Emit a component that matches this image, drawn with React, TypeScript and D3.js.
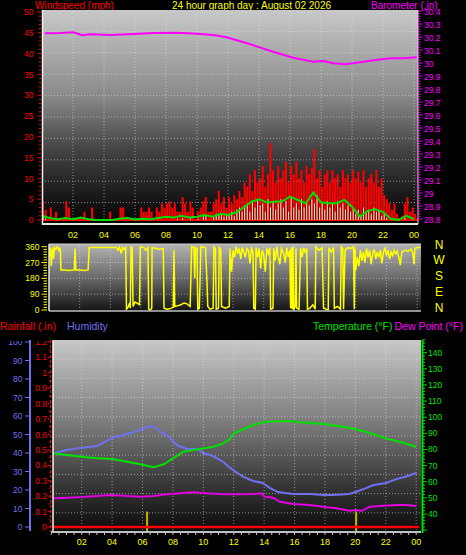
import React from 'react';
import * as d3 from 'd3';

// ---------- DATA ----------
const hourTicks = [2, 4, 6, 8, 10, 12, 14, 16, 18, 20, 22, 24];
const hourLabels = ['02', '04', '06', '08', '10', '12', '14', '16', '18', '20', '22', '00'];

// wind gust (mph), 10-minute steps from 00:00
const windGust = [
  4.5, 2.4, 0, 3, 0, 2, 0, 0, 0, 4.5, 3, 0, 0, 0, 0, 0, 2, 0, 0, 3, 0, 0, 0, 0,
  0, 0, 2, 0, 0, 0, 3, 3, 0, 0, 0, 0, 0, 0, 3, 2, 2, 3, 2, 0, 3, 2, 4, 3,
  4, 4.5, 3, 4, 2, 2, 5.5, 4, 2, 4.5, 3, 0, 2, 3, 4.5, 5.5, 2, 2, 4, 5, 7, 4, 5.5, 3,
  5.5, 4, 6, 5, 7, 5.5, 9, 8, 11, 7, 12, 9, 10, 13, 8, 11, 18.5, 12, 9, 13, 10, 12, 14, 9,
  13, 11, 14, 10, 12, 9, 13, 11, 12.5, 17, 10, 12, 8, 11, 12, 9, 12, 10, 11, 8, 12, 10, 11, 9,
  12, 10, 11.5, 9, 12, 8, 10, 11, 9, 12, 8, 10, 6, 5, 4, 2.5, 4, 1.5, 0.5, 1, 4, 5.5, 2, 3,
  1.5, 0.5,
];

// wind speed (mph), 10-minute steps from 00:00
const windSpeed = [
  0.8, 0.4, 0, 0, 0, 0, 0, 0, 0, 0, 0, 0, 0, 0, 0, 0, 0, 0, 0, 0, 0, 0, 0, 0,
  0, 0, 0, 0, 0, 0, 0, 0, 0, 0, 0, 0, 0, 0, 0, 0, 0, 0, 0, 0, 0, 0, 0, 0,
  0, 0, 0, 0, 0.3, 0, 0.5, 0, 0, 0.4, 0, 0, 0.3, 0, 1.2, 1, 0, 0, 0.8, 1.5, 1.2, 1.5, 0.8, 1.5,
  1.5, 2, 1, 2.5, 3, 2, 3.5, 4, 2, 4.5, 3, 5, 3.5, 4, 2, 5, 3, 4.5, 2.5, 4, 5, 3, 4.5, 2,
  5.5, 3, 4, 2.5, 5, 3, 4.5, 3.5, 5, 4, 6, 3, 4, 2.5, 4.5, 3, 4, 2, 4.5, 3, 4, 2.5, 3.5, 2,
  3, 1.5, 2.5, 1, 3, 2, 2.5, 1.5, 3, 2, 2.5, 1, 1.5, 0.5, 0, 0, 0, 0, 0, 0, 0.5, 0, 0, 0,
  0, 0,
];

// average wind speed (mph), 30-minute steps from 00:00
const windAvg = [
  1.0, 0.5, 0.2, 0.5, 0.2, 0.6, 0.2, 0, 0, 0, 0.3, 0.5, 0.1, 0.3, 0.2, 0.5, 0.8, 0.6, 1.0, 0.6,
  0.8, 1.2, 0.8, 1.5, 1.2, 1.8, 3.0, 4.4, 5.0, 4.2, 4.4, 4.5, 5.6, 4.8, 4.0, 6.6, 4.2, 4.0, 4.0, 4.8,
  3.2, 0.8, 2.2, 2.6, 1.9, 0.3, 0, 1.0, 0.2,
];

// barometer (inHg): [hour, value]
const barometer: [number, number][] = [
  [0.17, 30.228], [1.18, 30.231], [2.04, 30.236], [2.58, 30.213], [3.1, 30.221], [4.4, 30.215],
  [5.9, 30.223], [7.2, 30.231], [8.7, 30.233], [10.0, 30.225], [11.05, 30.215], [11.9, 30.198],
  [12.34, 30.183], [13.6, 30.138], [14.9, 30.087], [16.2, 30.041], [17.5, 30.01], [18.15, 30.015],
  [18.8, 29.998], [19.55, 29.99], [20.3, 30.002], [21.16, 30.018], [22.45, 30.036], [23.3, 30.036],
  [24.17, 30.044],
];

// wind direction (degrees): [hour, value]
const windDir: [number, number][] = [
  [0.0, 330], [0.05, 300], [0.1, 355], [0.15, 250], [0.2, 320], [0.25, 350], [0.3, 290], [0.35, 355],
  [0.45, 345], [0.55, 360], [0.65, 340], [0.7, 355], [0.75, 330], [0.78, 228], [1.0, 228], [1.3, 225],
  [1.65, 228], [1.7, 350], [1.75, 228], [2.0, 228], [2.3, 225], [2.55, 228], [2.62, 355], [3.0, 355],
  [3.5, 355], [4.0, 356], [4.4, 355], [4.5, 340], [4.6, 358], [4.7, 322], [4.8, 355], [4.9, 345],
  [5.0, 355], [5.05, 5], [5.15, 15], [5.25, 40], [5.3, 10], [5.35, 360], [5.42, 355], [5.48, 20],
  [5.6, 45], [5.7, 40], [5.9, 30], [5.95, 360], [6.2, 355], [6.3, 340], [6.45, 355], [6.5, 5],
  [6.6, 0], [6.7, 10], [6.72, 355], [7.0, 350], [7.2, 345], [7.45, 350], [7.5, 10], [7.7, 5],
  [7.9, 8], [8.1, 15], [8.15, 340], [8.2, 20], [8.4, 25], [8.6, 30], [8.8, 40], [9.0, 35],
  [9.2, 20], [9.3, 360], [9.45, 355], [9.5, 180], [9.55, 355], [9.65, 350], [9.7, 5], [9.8, 10],
  [9.9, 360], [10.2, 355], [10.3, 160], [10.35, 20], [10.5, 5], [10.7, 10], [10.75, 360], [10.85, 350],
  [10.9, 5], [11.05, 10], [11.1, 360], [11.2, 340], [11.25, 20], [11.5, 10], [11.75, 20], [11.8, 350],
  [11.9, 218], [12.0, 340], [12.1, 300], [12.2, 360], [12.3, 320], [12.4, 350], [12.5, 290], [12.6, 355],
  [12.7, 330], [12.8, 300], [12.9, 350], [13.0, 340], [13.1, 265], [13.2, 350], [13.3, 330], [13.35, 10],
  [13.45, 5], [13.5, 355], [13.6, 300], [13.7, 350], [13.8, 237], [13.9, 340], [14.0, 310], [14.1, 218],
  [14.2, 350], [14.3, 320], [14.4, 355], [14.45, 5], [14.6, 10], [14.65, 350], [14.75, 280], [14.85, 360],
  [14.95, 300], [15.05, 260], [15.15, 350], [15.3, 320], [15.4, 270], [15.5, 355], [15.6, 300], [15.7, 340],
  [15.75, 10], [15.8, 355], [15.85, 5], [15.9, 360], [15.95, 0], [16.05, 20], [16.1, 350], [16.15, 10],
  [16.3, 5], [16.4, 350], [16.5, 300], [16.6, 355], [16.7, 330], [16.8, 350], [16.85, 5], [17.0, 10],
  [17.2, 30], [17.35, 5], [17.4, 360], [17.6, 340], [17.8, 355], [17.9, 10], [18.05, 5], [18.2, 0],
  [18.25, 355], [18.4, 330], [18.55, 355], [18.6, 10], [18.8, 20], [19.0, 5], [19.05, 360], [19.15, 350],
  [19.2, 5], [19.3, 340], [19.5, 355], [19.7, 350], [19.85, 360], [19.9, 5], [19.95, 350], [20.0, 227],
  [20.1, 300], [20.2, 250], [20.3, 340], [20.4, 280], [20.5, 330], [20.6, 270], [20.7, 350], [20.8, 300],
  [20.9, 340], [21.0, 260], [21.1, 320], [21.2, 345], [21.3, 290], [21.4, 330], [21.5, 300], [21.6, 340],
  [21.7, 265], [21.8, 330], [21.9, 350], [22.0, 310], [22.1, 340], [22.2, 290], [22.3, 330], [22.4, 310],
  [22.5, 340], [22.6, 320], [22.7, 335], [22.8, 300], [22.9, 255], [23.0, 330], [23.2, 340], [23.4, 335],
  [23.6, 345], [23.7, 330], [23.8, 260], [23.85, 350], [24.0, 355], [24.2, 355],
];

// humidity (%): [hour, value]
const humidity: [number, number][] = [
  [0.13, 39.8], [1.0, 41.6], [2.0, 42.9], [3.0, 43.8], [3.64, 46.5], [4.2, 48.8], [4.5, 49.2],
  [5.5, 51.4], [6.16, 53.5], [6.5, 54.6], [6.82, 54.0], [7.15, 51.4], [7.6, 49.7], [8.25, 44.3],
  [8.9, 42.2], [9.57, 42.2], [10.0, 40.0], [10.6, 38.5], [11.3, 35.3], [11.76, 31.9], [11.95, 30.8],
  [12.6, 27.2], [13.27, 24.9], [13.9, 23.8], [14.37, 21.2], [14.9, 18.9], [15.9, 17.8], [17.0, 17.8],
  [17.9, 17.3], [18.5, 17.3], [19.6, 17.8], [20.0, 18.9], [20.7, 21.0], [21.2, 22.7], [22.0, 23.8],
  [22.7, 25.9], [23.3, 27.2], [24.0, 29.2],
];

// temperature (°F): [hour, value]
const temperature: [number, number][] = [
  [0.13, 77.6], [1.0, 76.6], [2.0, 75.5], [3.0, 74.5], [4.0, 74.1], [5.0, 72.4], [5.84, 70.8],
  [6.73, 69.0], [7.4, 70.8], [8.0, 74.5], [8.68, 78.6], [9.78, 80.3], [10.66, 81.7], [11.3, 83.8],
  [11.76, 86.5], [12.0, 90.0], [13.27, 95.2], [14.1, 97.2], [15.7, 97.7], [16.4, 96.9], [18.1, 95.6],
  [19.6, 93.5], [20.7, 91.0], [21.2, 89.4], [22.0, 86.9], [22.9, 84.8], [23.6, 82.8], [24.0, 81.7],
];

// dew point (°F): [hour, value]
const dewPoint: [number, number][] = [
  [0.13, 49.7], [1.0, 50.1], [2.0, 50.5], [3.0, 51.2], [3.88, 51.8], [4.74, 51.3], [5.84, 50.7],
  [6.71, 51.2], [7.59, 52.2], [8.47, 52.8], [9.34, 53.5], [10.22, 52.8], [11.1, 52.4], [11.95, 52.2],
  [13.27, 52.4], [13.8, 52.8], [14.04, 50.7], [14.59, 50.1], [15.03, 47.6], [15.9, 46.2], [17.0, 45.6],
  [17.87, 44.5], [18.75, 43.5], [19.63, 42.0], [20.07, 42.5], [20.4, 41.9], [20.95, 44.5], [21.82, 45.1],
  [22.7, 45.6], [23.36, 45.6], [24.0, 45.0],
];

// rainfall (in): accumulated line and rain rate markers
const rainTotal: [number, number][] = [[0, 0], [24.2, 0]];
const rainMarks: [number, number][] = [[6.3, 0.1], [20.05, 0.1]];

const windTickLabels = [0, 5, 10, 15, 20, 25, 30, 35, 40, 45, 50];
const baroTickLabels = [28.8, 28.9, 29.0, 29.1, 29.2, 29.3, 29.4, 29.5, 29.6, 29.7, 29.8, 29.9, 30.0, 30.1, 30.2, 30.3, 30.4];
const dirTickLabels = [0, 90, 180, 270, 360];
const compass = ['N', 'W', 'S', 'E', 'N'];
const humTickLabels = [0, 10, 20, 30, 40, 50, 60, 70, 80, 90, 100];
const rainTickLabels = [0, 0.1, 0.2, 0.3, 0.4, 0.5, 0.6, 0.7, 0.8, 0.9, 1, 1.1, 1.2];
const tempTickLabels = [40, 50, 60, 70, 80, 90, 100, 110, 120, 130, 140];

// ---------- CHART ----------
const FONT = 'Liberation Sans, Arial, sans-serif';
const RED = '#ff0000';
const MAG = '#ff00ff';
const YEL = '#ffff00';
const GRN = '#00e000';
const BLU = '#7070f0';
const GRID = 'rgba(225,225,225,0.55)';

function fmtNum(v: number) {
  const s = v.toFixed(1);
  return s.endsWith('.0') ? s.slice(0, -2) : s;
}

export default function App() {
  // top chart
  const tL = 42, tR = 418, tT = 10, tB = 224;
  const topX = d3.scaleLinear().domain([0, 24.25]).range([tL, tR]);
  const windY = d3.scaleLinear().domain([0, 50]).range([220, 12]);
  const baroY = d3.scaleLinear().domain([28.8, 30.4]).range([219, 11]);
  const step10 = 1 / 6;
  const barW = topX(step10) - topX(0);

  const avgLine = d3.line<number>().x((_, i) => topX(i * 0.5)).y((d) => windY(d));
  const baroLine = d3.line<[number, number]>().x((d) => topX(d[0])).y((d) => baroY(d[1]));

  // middle chart
  const mL = 49, mR = 421, mT = 244, mB = 311;
  const dirX = d3.scaleLinear().domain([0, 24.25]).range([mL, mR]);
  const dirY = d3.scaleLinear().domain([0, 360]).range([310, 246.7]);
  const dirLine = d3.line<[number, number]>().x((d) => dirX(d[0])).y((d) => dirY(d[1]));

  // bottom chart
  const bL = 53, bR = 421, bT = 340, bB = 532;
  const lowX = d3.scaleLinear().domain([0, 24.25]).range([51.3, 420]);
  const humY = d3.scaleLinear().domain([0, 100]).range([527, 342]);
  const rainY = d3.scaleLinear().domain([0, 1.2]).range([527, 342]);
  const tempY = d3.scaleLinear().domain([40, 140]).range([514, 352.7]);
  const humLine = d3.line<[number, number]>().x((d) => lowX(d[0])).y((d) => humY(d[1]));
  const tempLine = d3.line<[number, number]>().x((d) => lowX(d[0])).y((d) => tempY(d[1]));
  const dewLine = d3.line<[number, number]>().x((d) => lowX(d[0])).y((d) => tempY(d[1]));
  const rainLine = d3.line<[number, number]>().x((d) => lowX(d[0])).y((d) => rainY(d[1]));

  const topHGrid = d3.range(1, 10).map((k) => tB - ((tB - tT) * k) / 10);
  const botHGrid = d3.range(1, 10).map((k) => bB - ((bB - bT) * k) / 10);

  return (
    <svg
      width={466}
      height={555}
      style={{ position: 'absolute', left: 0, top: 0, background: '#000', fontFamily: FONT }}
    >
      <defs>
        <linearGradient id="gTop" x1="0" y1="0" x2="0" y2="1">
          <stop offset="0" stopColor="#c8c8c8" />
          <stop offset="0.4" stopColor="#8a8a8a" />
          <stop offset="0.65" stopColor="#444" />
          <stop offset="0.85" stopColor="#1c1c1c" />
          <stop offset="1" stopColor="#050505" />
        </linearGradient>
        <linearGradient id="gMid" x1="0" y1="0" x2="0" y2="1">
          <stop offset="0" stopColor="#b4b4b4" />
          <stop offset="0.5" stopColor="#6a6a6a" />
          <stop offset="1" stopColor="#141414" />
        </linearGradient>
        <linearGradient id="gBot" x1="0" y1="0" x2="0" y2="1">
          <stop offset="0" stopColor="#c8c8c8" />
          <stop offset="0.45" stopColor="#787878" />
          <stop offset="0.75" stopColor="#383838" />
          <stop offset="1" stopColor="#0a0a0a" />
        </linearGradient>
        <clipPath id="cTop"><rect x={tL} y={tT} width={tR - tL} height={tB - tT} /></clipPath>
        <clipPath id="cMid"><rect x={mL} y={mT} width={mR - mL} height={mB - mT} /></clipPath>
        <clipPath id="cBot"><rect x={bL} y={bT} width={bR - bL} height={bB - bT} /></clipPath>
        <clipPath id="cBotLab"><rect x={0} y={bT + 1} width={466} height={200} /></clipPath>
      </defs>
      <rect x={0} y={0} width={466} height={555} fill="#000" />

      {/* ===== TOP CHART ===== */}
      <text x={35} y={9.3} fontSize={10} fill={RED}>Windspeed (mph)</text>
      <text x={172} y={9.3} fontSize={10} fill={YEL}>24 hour graph day : August 02 2026</text>
      <text x={371} y={9.3} fontSize={10} fill={MAG}>Barometer (.in)</text>

      <rect x={tL} y={tT} width={tR - tL} height={tB - tT} fill="url(#gTop)" />
      <g stroke={GRID} strokeWidth={1} strokeDasharray="1,2">
        {topHGrid.map((y, i) => <line key={'th' + i} x1={tL} x2={tR} y1={y} y2={y} />)}
        {hourTicks.map((h) => <line key={'tv' + h} x1={topX(h)} x2={topX(h)} y1={tT} y2={tB} />)}
      </g>
      <g clipPath="url(#cTop)">
        {windGust.map((v, i) =>
          v > 0 ? (
            <rect key={'g' + i} x={topX(i * step10)} y={windY(v)} width={barW - 0.5} height={windY(0) - windY(v)} fill={RED} />
          ) : null
        )}
        <line x1={tL} x2={tR} y1={windY(0)} y2={windY(0)} stroke={RED} strokeWidth={2} />
        {windSpeed.map((v, i) =>
          v > 0 ? (
            <rect key={'s' + i} x={topX(i * step10) + 0.6} y={windY(v)} width={barW - 1.6} height={windY(0) - windY(v)} fill="#d4f4d4" />
          ) : null
        )}
        <path d={avgLine(windAvg) || ''} fill="none" stroke={GRN} strokeWidth={2} />
        <path d={baroLine(barometer) || ''} fill="none" stroke={MAG} strokeWidth={2} />
      </g>
      {/* borders */}
      <line x1={tL + 0.5} x2={tL + 0.5} y1={tT} y2={tB + 1} stroke="#f0f0f0" strokeWidth={1.5} />
      <line x1={tL} x2={tR} y1={tB} y2={tB} stroke="#d8ecd8" strokeWidth={2} />
      <line x1={tR} x2={tR} y1={tT} y2={tB} stroke="#f0c0f0" strokeWidth={1} />
      {/* left wind axis */}
      <g stroke={RED} strokeWidth={1}>
        {d3.range(0, 51).map((v) => (
          <line key={'wt' + v} x1={v % 5 === 0 ? 37.5 : 39} x2={41} y1={windY(v)} y2={windY(v)} />
        ))}
      </g>
      {windTickLabels.map((v) => (
        <text key={'wl' + v} x={33.5} y={windY(v) + 3.2} fontSize={8.5} fill={RED} textAnchor="end">{v}</text>
      ))}
      {/* right baro axis */}
      <g stroke={MAG} strokeWidth={1}>
        {d3.range(0, 81).map((k) => {
          const v = 28.8 + k * 0.02;
          return <line key={'bt' + k} x1={418.5} x2={k % 5 === 0 ? 422.5 : 420.5} y1={baroY(v)} y2={baroY(v)} />;
        })}
      </g>
      {baroTickLabels.map((v) => (
        <text key={'bl' + v} x={424} y={baroY(v) + 3.5} fontSize={8.5} fill={MAG}>{fmtNum(v)}</text>
      ))}
      {hourTicks.map((h, i) => (
        <text key={'tx' + h} x={topX(h)} y={238} fontSize={9} fill={YEL} textAnchor="middle">{hourLabels[i]}</text>
      ))}

      {/* ===== MIDDLE CHART ===== */}
      <rect x={mL} y={mT} width={mR - mL} height={mB - mT} fill="url(#gMid)" />
      <g stroke={GRID} strokeWidth={1} strokeDasharray="1,2">
        {[90, 180, 270].map((v) => <line key={'mh' + v} x1={mL} x2={mR} y1={dirY(v)} y2={dirY(v)} />)}
        {hourTicks.map((h) => <line key={'mv' + h} x1={dirX(h)} x2={dirX(h)} y1={mT} y2={mB} />)}
      </g>
      <g clipPath="url(#cMid)">
        <path d={dirLine(windDir) || ''} fill="none" stroke={YEL} strokeWidth={1.5} />
      </g>
      <line x1={mL} x2={mL} y1={mT} y2={mB} stroke="#e8e8e8" strokeWidth={1.5} />
      <line x1={mL} x2={mR} y1={mB} y2={mB} stroke="#bdbdbd" strokeWidth={1.5} />
      <line x1={mL} x2={mR} y1={mT} y2={mT} stroke="#d0d0d0" strokeWidth={1} />
      <g stroke={YEL} strokeWidth={1}>
        {d3.range(0, 361, 15).map((v) => (
          <line key={'dt' + v} x1={v % 90 === 0 ? 41.5 : 43.5} x2={47} y1={dirY(v)} y2={dirY(v)} />
        ))}
      </g>
      {dirTickLabels.map((v) => (
        <text key={'dl' + v} x={39.5} y={dirY(v) + 3} fontSize={8.5} fill={YEL} textAnchor="end">{v}</text>
      ))}
      {compass.map((c, i) => (
        <text key={'cp' + i} x={439} y={dirY(360 - i * 90) + 1.8} fontSize={12} fill={YEL} textAnchor="middle">{c}</text>
      ))}

      {/* ===== BOTTOM CHART ===== */}
      <text x={0} y={329.5} fontSize={10.5} fill={RED}>Rainfall (.in)</text>
      <text x={67} y={329.5} fontSize={10.5} fill={BLU}>Humidity</text>
      <text x={313} y={329.5} fontSize={10.5} fill={GRN}>Temperature (°F)</text>
      <text x={394.5} y={329.5} fontSize={10.5} fill={MAG}>Dew Point (°F)</text>

      <rect x={bL} y={bT} width={bR - bL} height={bB - bT} fill="url(#gBot)" />
      <g stroke={GRID} strokeWidth={1} strokeDasharray="1,2">
        {botHGrid.map((y, i) => <line key={'bh' + i} x1={bL} x2={bR} y1={y} y2={y} />)}
        {hourTicks.map((h) => <line key={'bv' + h} x1={lowX(h)} x2={lowX(h)} y1={bT} y2={bB} />)}
      </g>
      <g clipPath="url(#cBot)">
        {rainMarks.map(([h, v]) => (
          <rect key={'rm' + h} x={lowX(h) - 1} y={rainY(v)} width={2} height={bB - rainY(v)} fill="#c8b400" />
        ))}
        <path d={rainLine(rainTotal) || ''} fill="none" stroke={RED} strokeWidth={2.5} />
        <path d={dewLine(dewPoint) || ''} fill="none" stroke="#e000e0" strokeWidth={2} />
        <path d={humLine(humidity) || ''} fill="none" stroke={BLU} strokeWidth={2} />
        <path d={tempLine(temperature) || ''} fill="none" stroke={GRN} strokeWidth={2} />
      </g>
      <line x1={bL} x2={bL} y1={bT} y2={bB} stroke="#f4f4f4" strokeWidth={1.5} />
      <line x1={bL - 2} x2={bR} y1={bB} y2={bB} stroke="#c0c0c0" strokeWidth={2} />
      <g stroke="#c0c0c0" strokeWidth={1}>
        {d3.range(0, 49).map((k) => (
          <line key={'bx' + k} x1={lowX(k / 2)} x2={lowX(k / 2)} y1={bB + 1} y2={bB + 3} />
        ))}
      </g>
      {/* humidity axis */}
      <line x1={30} x2={30} y1={bT} y2={bB - 1} stroke={BLU} strokeWidth={2} />
      <g stroke={BLU} strokeWidth={1}>
        {humTickLabels.map((v) => <line key={'ht' + v} x1={25} x2={30} y1={humY(v)} y2={humY(v)} />)}
      </g>
      <g clipPath="url(#cBotLab)">
        {humTickLabels.map((v) => (
          <text key={'hl' + v} x={22.5} y={humY(v) + 3} fontSize={8.5} fill={BLU} textAnchor="end">{v}</text>
        ))}
        {rainTickLabels.map((v) => (
          <text key={'rl' + v} x={47} y={rainY(v) + 3} fontSize={8.5} fill={RED} textAnchor="end">{fmtNum(v)}</text>
        ))}
      </g>
      {/* rain axis */}
      <line x1={50.5} x2={50.5} y1={bT} y2={bB} stroke={RED} strokeWidth={1} strokeDasharray="3,2" />
      <g stroke={RED} strokeWidth={1}>
        {d3.range(0, 25).map((k) => (
          <line key={'rt' + k} x1={k % 2 === 0 ? 47.5 : 49} x2={50.5} y1={rainY(k * 0.05)} y2={rainY(k * 0.05)} />
        ))}
      </g>
      {/* temperature axis */}
      <line x1={422.5} x2={422.5} y1={bT} y2={bB + 1} stroke={GRN} strokeWidth={2} />
      <g stroke={GRN} strokeWidth={1}>
        {d3.range(30, 150, 2).map((v) => (
          <line key={'tt' + v} x1={422.5} x2={v % 10 === 0 ? 427 : 425} y1={tempY(v)} y2={tempY(v)} />
        ))}
      </g>
      {tempTickLabels.map((v) => (
        <text key={'tl' + v} x={428} y={tempY(v) + 3} fontSize={8.5} fill={GRN}>{v}</text>
      ))}
      {hourTicks.map((h, i) => (
        <text key={'lx' + h} x={lowX(h)} y={545} fontSize={9} fill={YEL} textAnchor="middle">{hourLabels[i]}</text>
      ))}
    </svg>
  );
}
